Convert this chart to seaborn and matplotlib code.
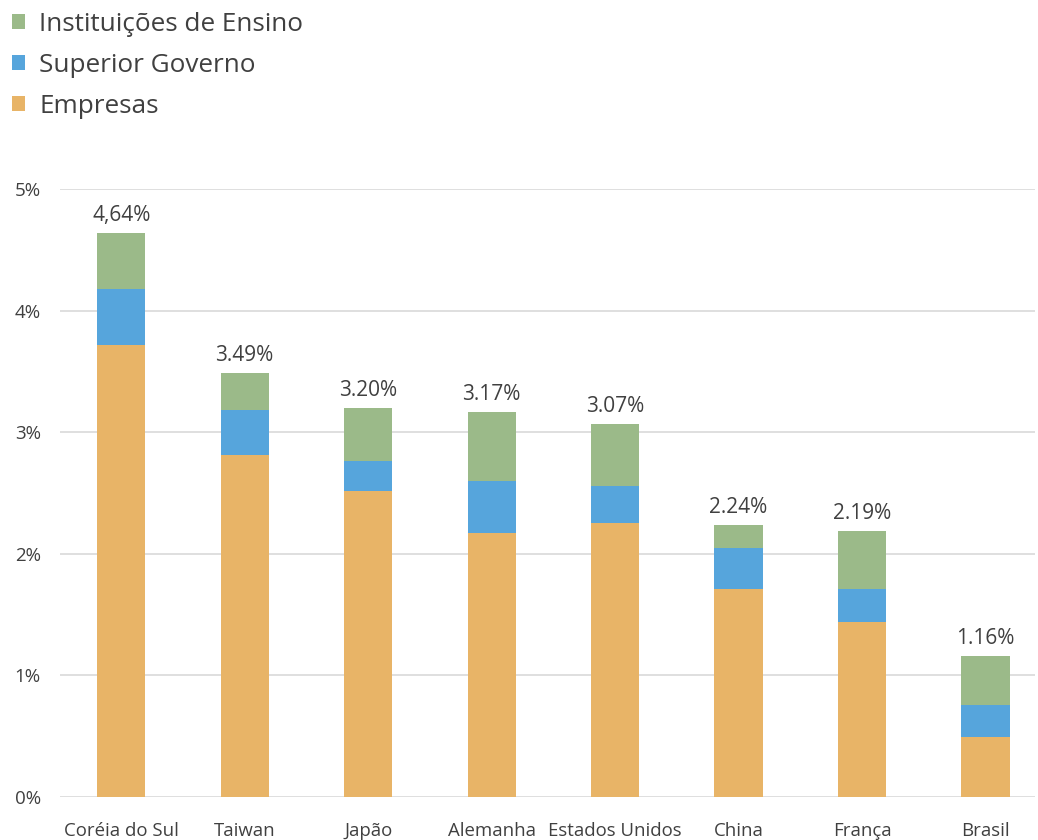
import matplotlib
matplotlib.use("Agg")
import matplotlib.pyplot as plt
from matplotlib.patches import Patch
import seaborn as sns
import pandas as pd

# R&D spending as % of GDP, by funding source
paises = ["Coréia do Sul", "Taiwan", "Japão", "Alemanha",
          "Estados Unidos", "China", "França", "Brasil"]
empresas = [3.72, 2.81, 2.52, 2.17, 2.25, 1.71, 1.44, 0.49]
governo = [0.46, 0.37, 0.24, 0.43, 0.31, 0.34, 0.27, 0.27]
totais = [4.64, 3.49, 3.20, 3.17, 3.07, 2.24, 2.19, 1.16]
rotulos = ["4,64%", "3.49%", "3.20%", "3.17%", "3.07%", "2.24%", "2.19%", "1.16%"]
series = ["Instituições de Ensino", "Superior Governo", "Empresas"]

cor_ensino = "#9BBA89"
cor_governo = "#56A5DC"
cor_empresas = "#E8B467"
cor_texto = "#404040"

sns.set_theme(style="white")
plt.rcParams["font.family"] = ["Open Sans", "DejaVu Sans"]

df = pd.DataFrame({
    "pais": paises,
    "total": totais,
    "emp_gov": [e + g for e, g in zip(empresas, governo)],
    "empresas": empresas,
})

fig = plt.figure(figsize=(10.38, 8.4), dpi=100)
ax = fig.add_axes([0.058, 0.0512, 0.939, 0.7238])

# Stacked bars drawn as cumulative layers, tallest first
for col, cor in [("total", cor_ensino), ("emp_gov", cor_governo), ("empresas", cor_empresas)]:
    sns.barplot(data=df, x="pais", y=col, color=cor, width=0.39,
                saturation=1, ax=ax, zorder=3, linewidth=0)

for i, (t, r) in enumerate(zip(totais, rotulos)):
    ax.annotate(r, (i, t), xytext=(0, 5), textcoords="offset points",
                ha="center", va="bottom", fontsize=15, color=cor_texto)

ax.set_ylim(0, 5)
ax.set_xlim(-0.494, 7.40)
ax.set_yticks([0, 1, 2, 3, 4, 5])
ax.set_yticklabels([f"{v}%" for v in range(6)])
ax.yaxis.grid(True, color="#D9D9D9", linewidth=1.2, zorder=0)
ax.set_axisbelow(True)
for s in ax.spines.values():
    s.set_visible(False)
ax.tick_params(axis="y", length=0, pad=14, labelsize=13.5, labelcolor=cor_texto)
ax.tick_params(axis="x", length=0, pad=18, labelsize=13.4, labelcolor=cor_texto)
ax.set_xlabel("")
ax.set_ylabel("")

handles = [Patch(facecolor=c, edgecolor="none")
           for c in [cor_ensino, cor_governo, cor_empresas]]
leg = fig.legend(handles, series, loc="upper left", bbox_to_anchor=(0.0, 1.0),
                 frameon=False, fontsize=18.8, handlelength=0.5, handleheight=0.5,
                 handletextpad=0.55, labelspacing=0.62, borderaxespad=0.15,
                 borderpad=0.3)
for t in leg.get_texts():
    t.set_color(cor_texto)

fig.savefig("out.png", dpi=100)
